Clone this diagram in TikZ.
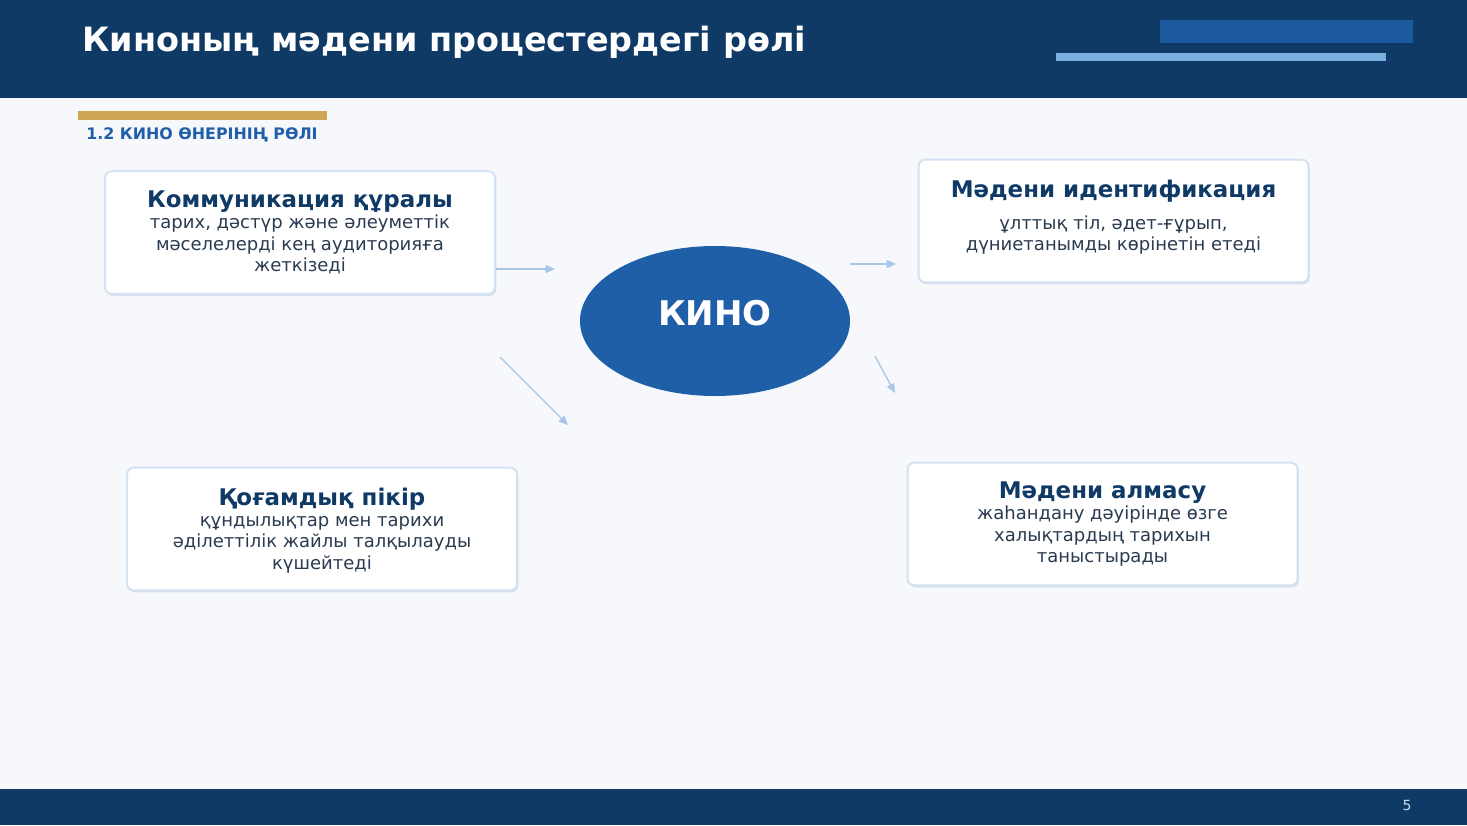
\documentclass[tikz,border=0pt]{standalone}
\usepackage{fontspec}
\setmainfont{DejaVu Sans}
\usetikzlibrary{shapes.geometric,shadows,arrows.meta}

\definecolor{navy}{HTML}{0F3A66}
\definecolor{barblue}{HTML}{1B5A9E}
\definecolor{barlight}{HTML}{7AAFE0}
\definecolor{pagebg}{HTML}{F6F8FC}
\definecolor{gold}{HTML}{CFA553}
\definecolor{kinoblue}{HTML}{1F5FA8}
\definecolor{arrowblue}{HTML}{A8C6E8}
\definecolor{boxline}{HTML}{D3E2F3}
\definecolor{bodytext}{HTML}{2A3B4F}

\tikzset{
  infobox/.style={draw=boxline, line width=1.5pt, fill=white, rounded corners=5pt,
    minimum width=292.5pt, minimum height=92pt, align=center, text=bodytext,
    font=\fontsize{13.5}{16}\selectfont,
    drop shadow={opacity=0.12, fill=navy, shadow xshift=1pt, shadow yshift=-1.5pt}},
  flowarrow/.style={-{Triangle[length=7pt,width=6pt]}, draw=arrowblue, line width=1pt}
}
\newcommand{\boxtitle}[1]{{\fontsize{17.2}{16}\selectfont\bfseries\color{navy}#1}}

\begin{document}
\begin{tikzpicture}[x=0.75pt,y=-0.75pt]
  \useasboundingbox (0,0) rectangle (1467,825);

  % Page and bands
  \fill[pagebg] (0,0) rectangle (1467,825);
  \fill[navy] (0,0) rectangle (1467,98);
  \fill[navy] (0,789) rectangle (1467,825);
  \fill[barblue] (1160,20) rectangle (1413,43);
  \fill[barlight] (1056,53) rectangle (1386,61);
  \fill[gold] (78,111) rectangle (327,120);

  % Title and subtitle
  \node[anchor=base west, inner sep=0, text=white, font=\fontsize{25.1}{28}\selectfont\bfseries]
    (title) at (82,51) {Киноның мәдени процестердегі рөлі};
  \node[anchor=base west, inner sep=0, text=kinoblue, font=\fontsize{11.9}{13}\selectfont\bfseries]
    (subtitle) at (86,139) {1.2 КИНО ӨНЕРІНІҢ РӨЛІ};

  % Centre
  \node[ellipse, fill=kinoblue, minimum width=202.5pt, minimum height=112.5pt, inner sep=0,
    text=white, text depth=12pt, font=\fontsize{25.5}{30}\selectfont\bfseries]
    (kino) at (715,321) {КИНО};

  % Boxes
  \node[infobox] (comm) at (300,232.5) {\boxtitle{Коммуникация құралы}\\
    тарих, дәстүр және әлеуметтік\\ мәселелерді кең аудиторияға\\ жеткізеді};
  \node[infobox] (ident) at (1113.5,221) {\boxtitle{Мәдени идентификация}\\[8pt]
    ұлттық тіл, әдет-ғұрып,\\ дүниетанымды көрінетін етеді\rule[-9pt]{0pt}{9pt}};
  \node[infobox] (opinion) at (322,529) {\rule{0pt}{15pt}\boxtitle{Қоғамдық пікір}\\
    құндылықтар мен тарихи\\ әділеттілік жайлы талқылауды\\ күшейтеді};
  \node[infobox] (exchange) at (1102.5,524) {\boxtitle{Мәдени алмасу}\\
    жаһандану дәуірінде өзге\\ халықтардың тарихын\\ таныстырады};

  % Arrows
  \coordinate (a1) at (555,269);
  \coordinate (b0) at (850,264);
  \coordinate (b1) at (896,264);
  \coordinate (c0) at (500,357);
  \coordinate (c1) at (568,425);
  \coordinate (d0) at (875,356);
  \coordinate (d1) at (895,393);
  \draw[flowarrow] (comm.east |- a1) -- (a1);
  \draw[flowarrow] (b0) -- (b1);
  \draw[flowarrow] (c0) -- (c1);
  \draw[flowarrow] (d0) -- (d1);

  % Page number
  \node[text=barlight!40!white, font=\fontsize{10.5}{12}\selectfont] (page) at (1407,805) {5};
\end{tikzpicture}
\end{document}
